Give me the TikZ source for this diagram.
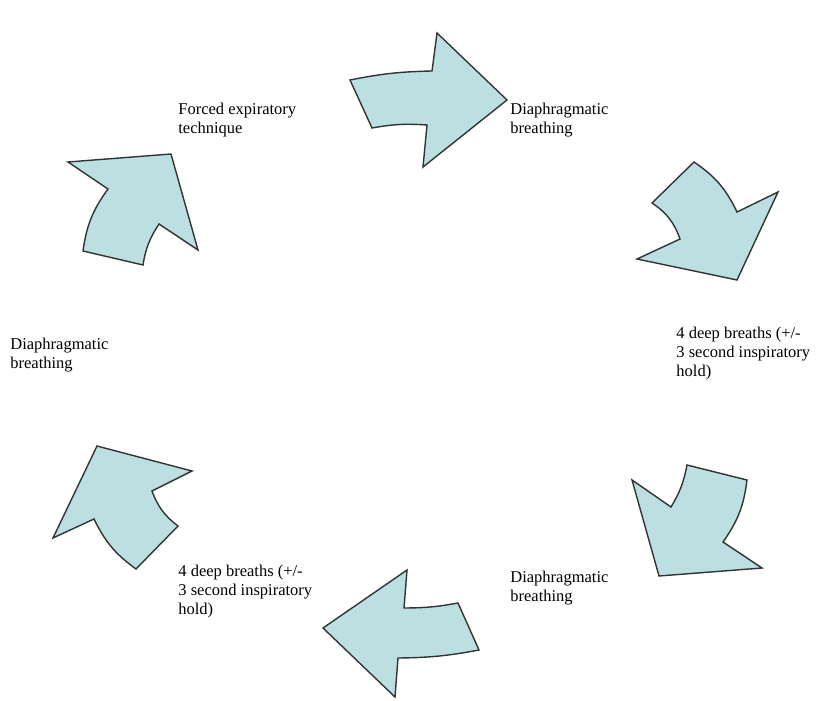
\documentclass[tikz,border=0pt]{standalone}
\usepackage{fontspec}
\setmainfont{Liberation Serif}
\usetikzlibrary{positioning}

\definecolor{arrowfill}{RGB}{188,223,226}

\begin{document}
\begin{tikzpicture}[
    x=0.5pt, y=-0.5pt,
    steptext/.style={anchor=north west, align=left, inner sep=0pt, font=\fontsize{8.25}{9.3}\selectfont},
    bigarrow/.style={draw=black!80, fill=arrowfill, line width=0.7pt, line join=miter}
]
\useasboundingbox (0,0) rectangle (817,700);

\node[steptext] (fet)   at (178,103) {Forced expiratory\\technique};
\node[steptext] (db1)   at (510,103) {Diaphragmatic\\breathing};
\node[steptext] (deep1) at (676,327) {4 deep breaths (+/-\\3 second inspiratory\\hold)};
\node[steptext] (db2)   at (510,571) {Diaphragmatic\\breathing};
\node[steptext] (deep2) at (178,565) {4 deep breaths (+/-\\3 second inspiratory\\hold)};
\node[steptext] (db3)   at (10,338)  {Diaphragmatic\\breathing};

% Cycle arrows
\draw[bigarrow] (350,80) to[bend left=5] (432,71) -- (437,33) -- (507,100) -- (423,167) -- (427,125) to[bend right=7] (372,128) -- cycle;
\draw[bigarrow] (694,162) to[bend left=15] (737,212) -- (778,192) -- (737,280) -- (637,259) -- (680,239) to[bend right=18] (652,203) -- cycle;
\draw[bigarrow] (687,465) -- (747,480) to[bend left=14] (723,542) -- (762,568) -- (659,576) -- (632,480) -- (671,507) to[bend right=10] (687,465) -- cycle;
\draw[bigarrow] (407,570) -- (404,608) to[bend right=5] (458,603) -- (479,650) to[bend left=5] (398,658) -- (395,697) -- (323,628) -- cycle;
\draw[bigarrow] (97,446) -- (192,471) -- (152,491) to[bend right=16] (178,526) -- (136,569) to[bend left=14] (94,519) -- (53,538) -- cycle;
\draw[bigarrow] (68,162) -- (171,154) -- (198,250) -- (159,224) to[bend right=12] (143,265) -- (83,251) to[bend left=14] (108,189) -- cycle;

\end{tikzpicture}
\end{document}
